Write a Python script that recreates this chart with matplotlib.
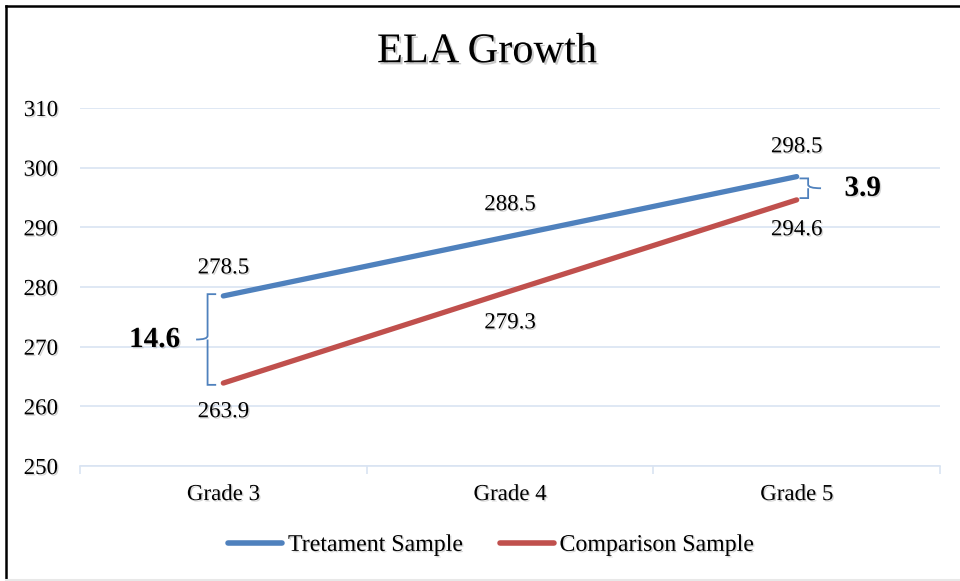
import matplotlib
matplotlib.use("Agg")
import matplotlib.pyplot as plt
import matplotlib.patheffects as pe
from matplotlib.path import Path
from matplotlib.patches import PathPatch
from matplotlib.lines import Line2D

categories = ["Grade 3", "Grade 4", "Grade 5"]
treatment = [278.5, 288.5, 298.5]
comparison = [263.9, 279.3, 294.6]
yticks = [250, 260, 270, 280, 290, 300, 310]
title = "ELA Growth"
series_names = ["Tretament Sample", "Comparison Sample"]

BLUE = "#4F81BD"
RED = "#C0504D"
GRID = "#D9E4F2"
FONT = "Liberation Serif"
FS = 16.5

plt.rcParams["font.family"] = [FONT, "DejaVu Serif"]

fig = plt.figure(figsize=(9.6, 5.81), dpi=100)
ax = fig.add_axes([80 / 960, 1 - 466 / 581, 860 / 960, 358 / 581])

shadow = [pe.SimplePatchShadow(offset=(1, -1), shadow_rgbFace="#888888", alpha=0.35), pe.Normal()]

x = [i + 0.5 for i in range(len(categories))]
ax.plot(x, treatment, color=BLUE, lw=3.8, solid_capstyle="round", zorder=3)
ax.plot(x, comparison, color=RED, lw=3.8, solid_capstyle="round", zorder=3)

ax.set_xlim(0, 3)
ax.set_ylim(250, 310)
ax.set_yticks(yticks)
ax.set_xticks([0, 1, 2, 3])
ax.set_xticklabels([])
ax.set_xticks(x, minor=True)
ax.set_xticklabels(categories, minor=True)
ax.tick_params(axis="x", which="minor", length=0, pad=13, labelsize=FS)
ax.tick_params(axis="x", which="major", length=6, color=GRID, width=1.2, direction="out")
ax.tick_params(axis="y", length=0, pad=16, labelsize=FS)
for lab in ax.get_yticklabels() + ax.get_xticklabels(minor=True):
    lab.set_path_effects(shadow)

ax.grid(axis="y", color=GRID, lw=1.2)
ax.set_axisbelow(True)
for s in ["top", "right", "left"]:
    ax.spines[s].set_visible(False)
ax.spines["bottom"].set_color(GRID)
ax.spines["bottom"].set_linewidth(1.2)

# data labels
t_off = [4.7, 5.3, 5.0]
c_off = [-4.8, -5.3, -5.0]
for i in range(3):
    ax.text(x[i], treatment[i] + t_off[i], f"{treatment[i]:.1f}", ha="center", va="center",
            fontsize=FS, path_effects=shadow)
    ax.text(x[i], comparison[i] + c_off[i], f"{comparison[i]:.1f}", ha="center", va="center",
            fontsize=FS, path_effects=shadow)

# braces
def brace(xc, y0, y1, w, tip, color=BLUE):
    ym = (y0 + y1) / 2
    verts = [(xc + w, y1), (xc, y1), (xc, y1), (xc, ym + 0.6),
             (xc, ym), (xc - tip, ym),
             (xc, ym), (xc, ym - 0.6),
             (xc, y0), (xc, y0), (xc + w, y0)]
    codes = [Path.MOVETO, Path.CURVE3, Path.CURVE3, Path.LINETO,
             Path.CURVE3, Path.CURVE3,
             Path.MOVETO, Path.LINETO,
             Path.LINETO, Path.CURVE3, Path.CURVE3]
    ax.add_patch(PathPatch(Path(verts, codes), fill=False, edgecolor=color, lw=1.3, zorder=4))

brace(x[0] - 0.055, comparison[0] - 0.3, treatment[0] + 0.3, 0.03, 0.04)
ax.text(x[0] - 0.24, (treatment[0] + comparison[0]) / 2, f"{treatment[0] - comparison[0]:.1f}",
        ha="center", va="center", fontsize=21, fontweight="bold", path_effects=shadow)
brace(x[2] + 0.04, comparison[2] + 0.3, treatment[2] - 0.3, -0.03, -0.045)
ax.text(x[2] + 0.23, (treatment[2] + comparison[2]) / 2, f"{treatment[2] - comparison[2]:.1f}",
        ha="center", va="center", fontsize=21, fontweight="bold", path_effects=shadow)

fig.text(487 / 960, 1 - 52 / 581, title, ha="center", va="center", fontsize=30.5,
         path_effects=[pe.SimplePatchShadow(offset=(1.5, -1.5), shadow_rgbFace="#777777", alpha=0.4), pe.Normal()])

handles = [Line2D([], [], color=BLUE, lw=4, solid_capstyle="round"),
           Line2D([], [], color=RED, lw=4, solid_capstyle="round")]
leg = fig.legend(handles, series_names, loc="center", bbox_to_anchor=(491 / 960, 1 - 545 / 581),
                 ncol=2, frameon=False, fontsize=17.2, handlelength=2.25, handletextpad=0.25,
                 columnspacing=1.55, borderpad=0, borderaxespad=0)
for t in leg.get_texts():
    t.set_path_effects(shadow)

# figure border
fig.add_artist(Line2D([6 / 960, 6 / 960], [0, 1 - 6 / 581], transform=fig.transFigure, color="black", lw=1.8))
fig.add_artist(Line2D([6 / 960, 1], [1 - 6 / 581, 1 - 6 / 581], transform=fig.transFigure, color="black", lw=1.8))
fig.add_artist(Line2D([6 / 960, 1], [1.2 / 581, 1.2 / 581], transform=fig.transFigure, color="#E8E8E8", lw=1.5))

fig.savefig("out.png", dpi=100, facecolor="white")
